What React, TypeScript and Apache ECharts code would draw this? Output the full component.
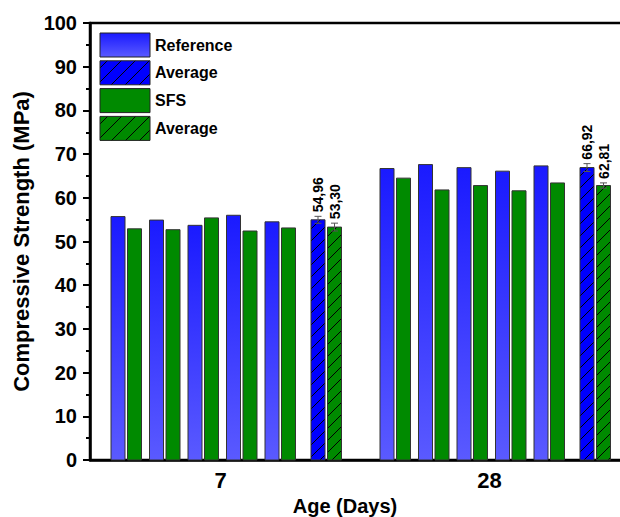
import React, { useEffect, useRef } from "react";
import * as echarts from "echarts";

const categories = ["7", "28"];
const referenceValues = [
  [55.7, 54.9, 53.7, 56.0, 54.5],
  [66.7, 67.6, 66.9, 66.1, 67.3],
];
const sfsValues = [
  [52.9, 52.7, 55.4, 52.4, 53.1],
  [64.5, 61.8, 62.8, 61.6, 63.4],
];
const referenceAverage = [54.96, 66.92];
const sfsAverage = [53.3, 62.81];
const referenceError = [0.8, 0.9];
const sfsError = [0.9, 0.6];
const legendNames = ["Reference", "Average", "SFS", "Average"];
const yAxisName = "Compressive Strength (MPa)";
const xAxisName = "Age (Days)";

const FONT = 'Arial, "Liberation Sans", sans-serif';
const BLUE_AVG = "#0000ff";
const GREEN = "#008a00";
const BAND_REF = 269;
const BAR_W = 14;
const PITCH = 38.5;
const OFF_REF = -113.5;
const OFF_SFS = -97;
const OFF_REF_AVG = 86.5;
const OFF_SFS_AVG = 103;

const blueGradient = () =>
  new echarts.graphic.LinearGradient(0, 0, 0, 1, [
    { offset: 0, color: "#1a1aff" },
    { offset: 1, color: "#5a5aff" },
  ]);

function hatchLines(x0: number, y0: number, w: number, h: number, step: number) {
  const x1 = x0 + w;
  const y1 = y0 + h;
  const out: any[] = [];
  const start = Math.ceil((x0 + y0) / step) * step;
  for (let c = start; c < x1 + y1; c += step) {
    const xa = Math.max(x0, c - y1);
    const xb = Math.min(x1, c - y0);
    if (xb > xa + 0.5) {
      out.push({
        type: "line",
        shape: { x1: xa, y1: c - xa, x2: xb, y2: c - xb },
        style: { stroke: "#000", lineWidth: 1 },
        silent: true,
      });
    }
  }
  return out;
}

function plainRender(offset: number, fillFn: () => any) {
  return (params: any, api: any) => {
    const ci = api.value(0);
    const v = api.value(1);
    const slot = api.value(2);
    const top = api.coord([ci, v]);
    const base = api.coord([ci, 0]);
    const s = api.size([1, 0])[0] / BAND_REF;
    const x = top[0] + (offset + slot * PITCH) * s;
    return {
      type: "rect",
      shape: { x, y: top[1], width: BAR_W * s, height: base[1] - top[1] },
      style: { fill: fillFn(), stroke: "#333", lineWidth: 1 },
    };
  };
}

function avgRender(offset: number, fill: string) {
  return (params: any, api: any) => {
    const ci = api.value(0);
    const v = api.value(1);
    const err = api.value(2);
    const top = api.coord([ci, v]);
    const base = api.coord([ci, 0]);
    const hi = api.coord([ci, v + err]);
    const lo = api.coord([ci, v - err]);
    const s = api.size([1, 0])[0] / BAND_REF;
    const w = BAR_W * s;
    const x = top[0] + offset * s;
    const h = base[1] - top[1];
    const cx = x + w / 2;
    const children: any[] = [
      { type: "rect", shape: { x, y: top[1], width: w, height: h }, style: { fill } },
      ...hatchLines(x, top[1], w, h, 12),
      { type: "rect", shape: { x, y: top[1], width: w, height: h }, style: { fill: "none", stroke: "#333", lineWidth: 1 } },
      { type: "line", shape: { x1: cx, y1: hi[1], x2: cx, y2: lo[1] }, style: { stroke: "#555", lineWidth: 1 } },
      { type: "line", shape: { x1: cx - 3.5, y1: hi[1], x2: cx + 3.5, y2: hi[1] }, style: { stroke: "#555", lineWidth: 1 } },
      { type: "line", shape: { x1: cx - 3.5, y1: lo[1], x2: cx + 3.5, y2: lo[1] }, style: { stroke: "#555", lineWidth: 1 } },
      {
        type: "text",
        x: cx,
        y: hi[1] - 4,
        rotation: Math.PI / 2,
        style: {
          text: v.toFixed(2).replace(".", ","),
          fill: "#000",
          fontSize: 14,
          fontWeight: "bold",
          fontFamily: FONT,
          align: "left",
          verticalAlign: "middle",
        },
      },
    ];
    return { type: "group", children };
  };
}

function legendGraphic() {
  const els: any[] = [];
  const fills = [blueGradient(), BLUE_AVG, GREEN, GREEN];
  const hatched = [false, true, false, true];
  legendNames.forEach((name, i) => {
    const x = 100;
    const y = 33 + i * 27.8;
    const w = 50;
    const h = 24;
    els.push({ type: "rect", shape: { x, y, width: w, height: h }, style: { fill: fills[i] } });
    if (hatched[i]) els.push(...hatchLines(x, y, w, h, 14));
    els.push({ type: "rect", shape: { x, y, width: w, height: h }, style: { fill: "none", stroke: "#222", lineWidth: 1 } });
    els.push({
      type: "text",
      x: 155,
      y: y + h / 2,
      style: {
        text: name,
        fill: "#000",
        fontSize: 16,
        fontWeight: "bold",
        fontFamily: FONT,
        align: "left",
        verticalAlign: "middle",
      },
    });
  });
  return els;
}

export default function App() {
  const ref = useRef<HTMLDivElement>(null);
  useEffect(() => {
    if (!ref.current) return;
    const chart = echarts.init(ref.current, undefined, { renderer: "svg" });
    const refData = categories.flatMap((_, ci) => referenceValues[ci].map((v, i) => [ci, v, i]));
    const sfsData = categories.flatMap((_, ci) => sfsValues[ci].map((v, i) => [ci, v, i]));
    const refAvgData = categories.map((_, ci) => [ci, referenceAverage[ci], referenceError[ci]]);
    const sfsAvgData = categories.map((_, ci) => [ci, sfsAverage[ci], sfsError[ci]]);
    chart.setOption({
      animation: false,
      backgroundColor: "#fff",
      grid: {
        left: 90,
        top: 23,
        width: 538,
        height: 437,
        show: true,
        borderColor: "#000",
        borderWidth: 2.5,
        backgroundColor: "transparent",
        containLabel: false,
        outerBoundsMode: "none",
      },
      xAxis: {
        type: "category",
        data: categories,
        name: xAxisName,
        nameLocation: "middle",
        nameGap: 28,
        nameTextStyle: { fontSize: 20, fontWeight: "bold", color: "#000", fontFamily: FONT, padding: [0, 28, 0, 0] },
        axisLine: { lineStyle: { color: "#000", width: 2.5 } },
        axisTick: { show: false },
        axisLabel: { fontSize: 22, fontWeight: "bold", color: "#000", fontFamily: FONT, margin: 9, padding: [0, 8, 0, 0] },
        splitLine: { show: false },
      },
      yAxis: {
        type: "value",
        min: 0,
        max: 100,
        interval: 10,
        name: yAxisName,
        nameLocation: "middle",
        nameGap: 55,
        nameTextStyle: { fontSize: 22, fontWeight: "bold", color: "#000", fontFamily: FONT },
        axisLine: { show: true, lineStyle: { color: "#000", width: 2.5 } },
        axisTick: { show: true, inside: false, length: 7, lineStyle: { color: "#000", width: 2 } },
        minorTick: { show: true, splitNumber: 2, length: 4, lineStyle: { color: "#000", width: 2 } },
        axisLabel: { fontSize: 20, fontWeight: "bold", color: "#000", fontFamily: FONT, margin: 13 },
        splitLine: { show: false },
      },
      series: [
        { type: "custom", name: "Reference", data: refData, renderItem: plainRender(OFF_REF, blueGradient) },
        { type: "custom", name: "SFS", data: sfsData, renderItem: plainRender(OFF_SFS, () => GREEN) },
        { type: "custom", name: "Reference Average", data: refAvgData, renderItem: avgRender(OFF_REF_AVG, BLUE_AVG) },
        { type: "custom", name: "SFS Average", data: sfsAvgData, renderItem: avgRender(OFF_SFS_AVG, GREEN) },
      ],
      graphic: legendGraphic(),
    });
    return () => chart.dispose();
  }, []);
  return <div ref={ref} style={{ position: "fixed", left: 0, top: 0, width: 620, height: 517 }} />;
}
